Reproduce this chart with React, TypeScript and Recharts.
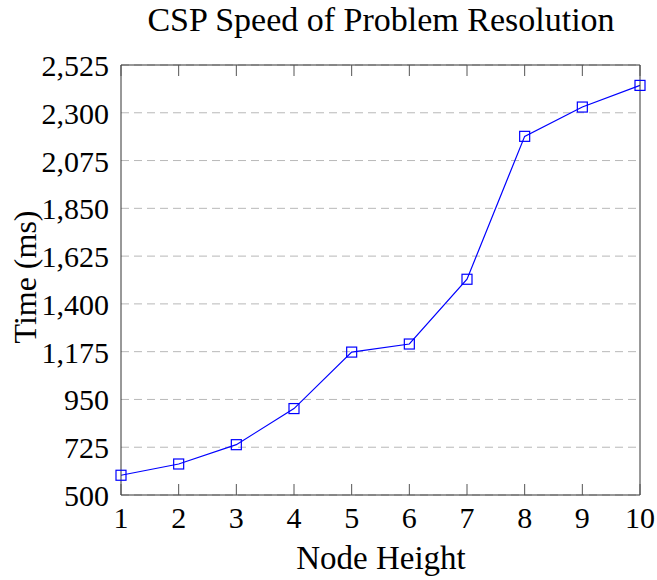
import React from "react"
import { LineChart, Line, XAxis, YAxis, CartesianGrid } from "recharts"

const nodeHeights = [1, 2, 3, 4, 5, 6, 7, 8, 9, 10]
const timeMs = [593, 646, 737, 907, 1173, 1211, 1516, 2189, 2327, 2429]
const yTicks = [500, 725, 950, 1175, 1400, 1625, 1850, 2075, 2300, 2525]

const data = nodeHeights.map((x, i) => ({ x, time: timeMs[i] }))

const FONT = "'Liberation Serif', 'Times New Roman', serif"
const AXIS = "#333"
const TICK = "#555"
const TICK_LEN = 11

// layout
const W = 657
const H = 580
const MARGIN = { top: 64, right: 16, left: 0, bottom: 0 }
const X_AXIS_H = 85
const Y_AXIS_W = 121
const PLOT_BOTTOM = H - MARGIN.bottom - X_AXIS_H
const PLOT_LEFT = MARGIN.left + Y_AXIS_W

const SquareDot = (props: any) => {
  const { cx, cy, index } = props
  if (cx == null || cy == null) return <g key={index} />
  return (
    <rect key={index} x={cx - 5} y={cy - 5} width={10} height={10} fill="none" stroke="#0000ff" strokeWidth={1.2} />
  )
}

const BottomLabel = (props: any) => {
  const { x, y, payload } = props
  return (
    <text x={x} y={y + 33} textAnchor="middle" fontFamily={FONT} fontSize={30} fill="#000">
      {payload.value}
    </text>
  )
}

const LeftLabel = (props: any) => {
  const { x, y, payload } = props
  return (
    <text x={x - 12} y={y + 11} textAnchor="end" fontFamily={FONT} fontSize={30} fill="#000">
      {Number(payload.value).toLocaleString("en-US")}
    </text>
  )
}

// inward ticks on top and bottom edges (pgfplots style)
const TopBottomTicks = (props: any) => {
  const { x, y } = props
  return (
    <g>
      <line x1={x} x2={x} y1={y} y2={y + TICK_LEN} stroke={TICK} />
      <line x1={x} x2={x} y1={PLOT_BOTTOM - TICK_LEN} y2={PLOT_BOTTOM} stroke={TICK} />
    </g>
  )
}

// inward ticks on right and left edges
const RightLeftTicks = (props: any) => {
  const { x, y } = props
  return (
    <g>
      <line x1={x - TICK_LEN} x2={x} y1={y} y2={y} stroke={TICK} />
      <line x1={PLOT_LEFT} x2={PLOT_LEFT + TICK_LEN} y1={y} y2={y} stroke={TICK} />
    </g>
  )
}

export default function App() {
  return (
    <div style={{ position: "absolute", left: 0, top: 0, width: W, height: H, background: "#fff" }}>
      <LineChart width={W} height={H} data={data} margin={MARGIN}>
        <CartesianGrid
          xAxisId="b"
          yAxisId="l"
          vertical={false}
          stroke="#b8b8b8"
          strokeDasharray="8 5"
        />
        <XAxis
          xAxisId="b"
          dataKey="x"
          type="number"
          domain={[1, 10]}
          ticks={nodeHeights}
          interval={0}
          height={X_AXIS_H}
          tickSize={0}
          tickMargin={0}
          tick={BottomLabel}
          tickLine={false}
          axisLine={{ stroke: AXIS }}
        />
        <YAxis
          yAxisId="l"
          type="number"
          domain={[500, 2525]}
          ticks={yTicks}
          interval={0}
          width={Y_AXIS_W}
          tickSize={0}
          tickMargin={0}
          tick={LeftLabel}
          tickLine={false}
          axisLine={{ stroke: AXIS }}
        />
        <Line
          xAxisId="b"
          yAxisId="l"
          dataKey="time"
          stroke="#0000ff"
          strokeWidth={1.2}
          dot={SquareDot}
          activeDot={false}
          isAnimationActive={false}
        />
        <XAxis
          xAxisId="t"
          orientation="top"
          dataKey="x"
          type="number"
          domain={[1, 10]}
          ticks={nodeHeights}
          interval={0}
          height={1}
          tickSize={0}
          tickMargin={0}
          tick={TopBottomTicks}
          tickLine={false}
          axisLine={{ stroke: AXIS }}
        />
        <YAxis
          yAxisId="r"
          orientation="right"
          type="number"
          domain={[500, 2525]}
          ticks={yTicks}
          interval={0}
          width={1}
          tickSize={0}
          tickMargin={0}
          tick={RightLeftTicks}
          tickLine={false}
          axisLine={{ stroke: AXIS }}
        />
      </LineChart>
      <svg
        width={W}
        height={H}
        style={{ position: "absolute", left: 0, top: 0, pointerEvents: "none" }}
        fontFamily={FONT}
      >
        <text x={381} y={31} textAnchor="middle" fontSize={34} fill="#000">
          CSP Speed of Problem Resolution
        </text>
        <text x={381} y={569} textAnchor="middle" fontSize={33} fill="#000">
          Node Height
        </text>
        <text x={36} y={277} textAnchor="middle" fontSize={32} fill="#000" transform="rotate(-90 36 277)">
          Time (ms)
        </text>
      </svg>
    </div>
  )
}
